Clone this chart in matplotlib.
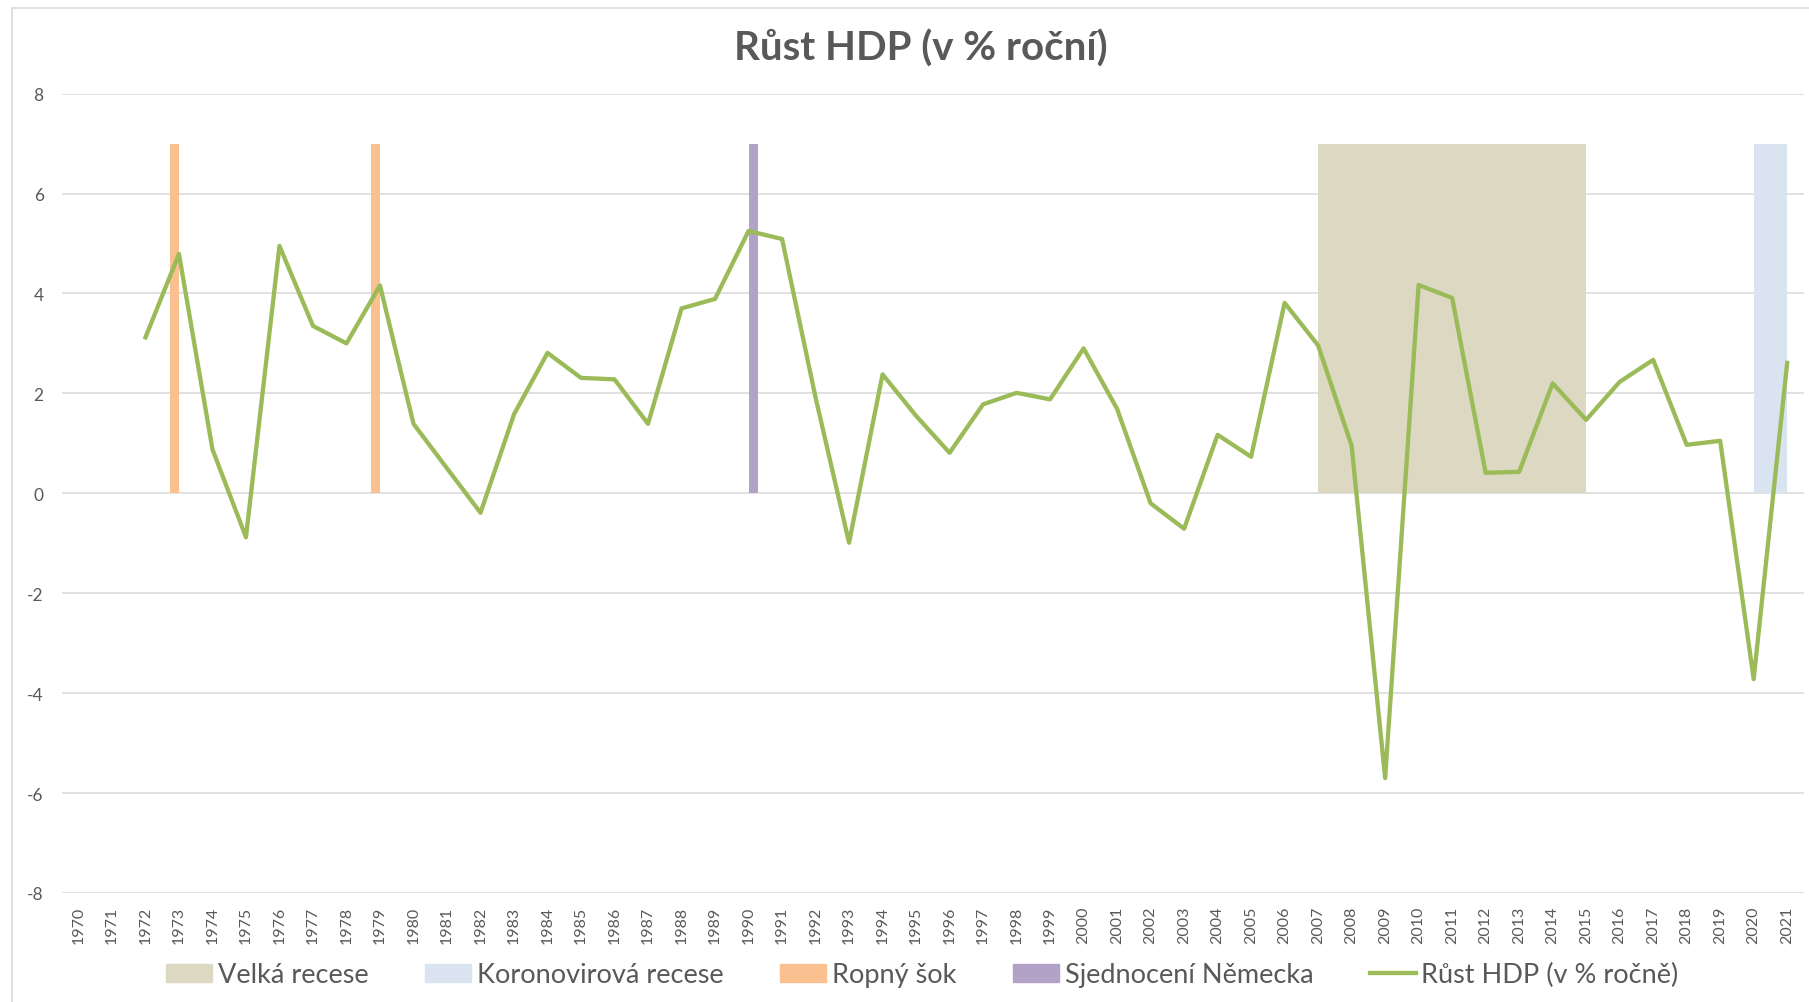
import numpy as np
import matplotlib.pyplot as plt
from matplotlib.patches import Patch, Rectangle
from matplotlib.lines import Line2D

plt.rcParams['font.family'] = ['Lato', 'DejaVu Sans']
plt.rcParams['axes.unicode_minus'] = False

# Data
years = list(range(1970, 2022))
gdp_years = list(range(1972, 2022))
gdp_growth = [3.12, 4.79, 0.88, -0.88, 4.95, 3.35, 3.00, 4.16, 1.39, 0.50,
              -0.39, 1.58, 2.81, 2.31, 2.28, 1.39, 3.70, 3.89, 5.25, 5.09,
              1.92, -0.99, 2.38, 1.55, 0.81, 1.78, 2.01, 1.88, 2.90, 1.69,
              -0.20, -0.71, 1.17, 0.73, 3.81, 2.96, 0.95, -5.70, 4.17, 3.91,
              0.41, 0.43, 2.20, 1.47, 2.23, 2.67, 0.97, 1.05, -3.72, 2.61]
oil_shock_years = [1973, 1979]
unification_years = [1990]
great_recession = [2007, 2015]
covid_recession = [2020, 2021]
band_height = 7

text_gray = '#595959'
c_great = '#DDD8C2'
c_covid = '#DAE3F0'
c_oil = '#FAC090'
c_unif = '#B3A2C7'
c_line = '#9BBB59'

fig = plt.figure(figsize=(18.09, 10.03), dpi=100)
ax = fig.add_axes([0.0341, 0.1087, 0.9631, 0.797])

# shaded periods
ax.fill_between(great_recession, 0, band_height, color=c_great, lw=0, zorder=1)
ax.fill_between(covid_recession, 0, band_height, color=c_covid, lw=0, zorder=1)

# clustered columns
bw = 0.27
ax.bar(np.array(oil_shock_years) - bw / 2, band_height, width=bw, color=c_oil, zorder=2)
ax.bar(np.array(unification_years) + bw / 2, band_height, width=bw, color=c_unif, zorder=2)

ax.plot(gdp_years, gdp_growth, color=c_line, lw=3.1, solid_joinstyle='round', zorder=3)

ax.set_xlim(1969.5, 2021.5)
ax.set_ylim(-8, 8)
ax.set_yticks(range(-8, 9, 2))
ax.set_xticks(years)
ax.set_xticklabels([str(y) for y in years], rotation=90, fontsize=11.5, color=text_gray)
ax.tick_params(axis='x', length=0, pad=9)
ax.tick_params(axis='y', length=0, pad=13, labelsize=12.5, labelcolor=text_gray)
ax.grid(axis='y', color='#D9D9D9', lw=1.1, zorder=0)
ax.set_axisbelow(True)
for s in ax.spines.values():
    s.set_visible(False)

fig.text(0.509, 0.952, 'Růst HDP (v % roční)', ha='center', va='center',
         fontsize=29, fontweight='bold', color=text_gray)

# chart border (partly cropped in the original)
fig.patches.append(Rectangle((12 / 1809, -0.05), 1.1, 1.05 - 9 / 1003,
                             transform=fig.transFigure, fill=False,
                             edgecolor='#D9D9D9', lw=1.2))

handles = [Patch(color=c_great), Patch(color=c_covid), Patch(color=c_oil),
           Patch(color=c_unif), Line2D([], [], color=c_line, lw=3.1)]
labels = ['Velká recese', 'Koronovirová recese', 'Ropný šok',
          'Sjednocení Německa', 'Růst HDP (v % ročně)']
leg = fig.legend(handles, labels, loc='center', bbox_to_anchor=(0.51, 0.027),
                 ncol=5, frameon=False, fontsize=19.5, handlelength=1.7,
                 handleheight=0.6, handletextpad=0.2, columnspacing=2.1)
for t in leg.get_texts():
    t.set_color(text_gray)

fig.savefig('out.png', dpi=100)
